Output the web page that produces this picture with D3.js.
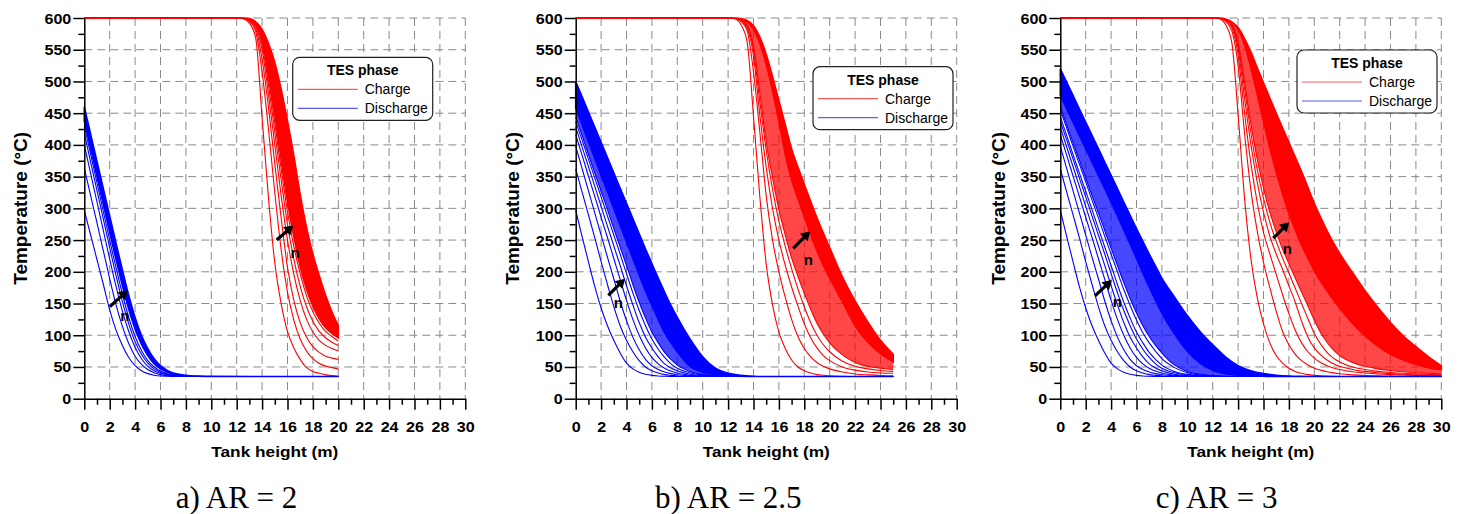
<!DOCTYPE html>
<html><head><meta charset="utf-8">
<script src="https://cdn.jsdelivr.net/npm/d3@7"></script>
<style>body{margin:0;background:#fff}svg{display:block}</style>
</head><body>
<svg id="chart" width="1464" height="514"></svg>
<script>
// ---------------- data ----------------
const xTickValues = [0,2,4,6,8,10,12,14,16,18,20,22,24,26,28,30];
const yTickValues = [0,50,100,150,200,250,300,350,400,450,500,550,600];
const panelCaptions = ["a) AR = 2", "b) AR = 2.5", "c) AR = 3"];
const legendTitle = "TES phase";
const seriesNames = ["Charge", "Discharge"];
const xTitle = "Tank height (m)";
const yTitle = "Temperature (°C)";
const arrowLabel = "n";

// Panel a (AR = 2)
const dischargeKnotsA = [0,0.5,1,1.5,2,2.5,3,3.5,4,4.5,5,5.5,6,6.5,7,8,9,10,20];
const dischargeLinesA = [
  [297,258,219,180,140,108,84,65,52,44,39.5,37,35.8,35.4,35.2,35,35,35,35],
  [363,320,277,233,189,148,114,87,67,54,46,41,38,36.5,35.5,35,35,35,35],
  [400,355,310,265,220,177,138,106,81,63,51,44,40,37.5,36.2,35.3,35,35,35],
  [418,373,328,283,238,194,153,118,90,70,56,47,41.5,38.5,36.7,35.5,35.1,35,35],
  [430,385,340,295,250,206,165,128,98,76,60,50,43.5,39.5,37.3,35.8,35.2,35,35]
];
const dischargeBandInnerA = [438,394,350,306,262,219,178,141,110,86,68,55,47,42,38.8,36.3,35.4,35.1,35];
const dischargeBandOuterA = [460,417,374,331,288,245,203,163,128,100,79,63,52,45,40.5,37,35.7,35.2,35];
const chargeKnotsA = [0,12,12.5,13,13.5,14,14.5,15,15.5,16,16.5,17,17.5,18,18.5,19,19.5,20];
const chargeLinesA = [
  [600,600,599,592,568,443,317,214,150,106,80,62,49,43,40,37.5,36.3,35.5],
  [600,600,599.5,595,578,515,425,325,235,168,124,94,75,63,55.5,51.5,49,47],
  [600,600,599.5,596,583,535,460,370,285,207,155,120,97,82,73,67,64,62],
  [600,600,599.5,597,587,550,480,400,320,250,196,155,125,105,92,84,79,75],
  [600,600,599.5,598,589,558,495,420,345,275,220,177,145,122,106,96,89,84],
  [600,600,599.5,598,591,563,505,435,362,295,240,197,162,137,119,106,98,91]
];
const chargeBandInnerA = [600,600,599.5,598,592,567,512,447,376,310,255,208,172,146,126,112,103,96];
const chargeBandOuterA = [600,600,599.5,599,594,582,560,530,488,438,383,322,270,228,194,163,137,115];

// Panel b (AR = 2.5)
const dischargeKnotsB = [0,0.5,1,1.5,2,2.5,3,3.5,4,4.5,5,5.5,6,6.5,7,7.5,8,9,10,11,12,13,14,15,25];
const dischargeLinesB = [
  [297,256,216,177,143,115,92,72,56,47,41.5,38.5,36.7,35.8,35.3,35.1,35,35,35,35,35,35,35,35,35],
  [362,326,290,254,216,180,145,115,92,74,60,50,44,40.5,38,36.7,35.8,35.2,35,35,35,35,35,35,35],
  [398,363,328,293,258,223,189,154,123,97,77,62,52,46,42,39.5,37.8,36,35.2,35,35,35,35,35,35],
  [416,384,351,319,286,254,221,188,155,125,100,80,65,55,48,43.5,40.5,37,35.6,35.1,35,35,35,35,35],
  [428,397,366,335,303,272,241,210,178,148,120,97,80,66,55,48.5,44,38.5,36.2,35.3,35,35,35,35,35],
  [437,408,378,348,318,288,258,228,197,167,139,115,94,78,65,55,48,41,37.3,35.6,35.1,35,35,35,35],
  [444,415,385,356,327,298,268,239,210,180,152,127,105,88,73,62,53,43,38.3,36,35.3,35,35,35,35]
];
const dischargeBandInnerB = [458,432,405,379,352,326,300,273,247,221,195,170,147,125,104,88,74,51,42,38,36.3,35.5,35.1,35,35];
const dischargeBandOuterB = [500,476,452,428,404,380,356,332,308,284,260,236,213,190,168,147,128,94,66,48,40,37,35.5,35,35];
const chargeKnotsB = [0,12,12.5,13,13.5,14,14.5,15,15.5,16,16.5,17,17.5,18,18.5,19,19.5,20,21,22,23,24,25];
const chargeLinesB = [
  [600,600,599,590,562,445,318,212,148,105,79,61,50,44,40.5,38,37,36,35.3,35,35,35,35],
  [600,600,599.5,595,580,515,420,320,250,200,160,125,98,79,66,57,51,47,42,39,37.5,36.5,36],
  [600,600,599.5,596,584,540,447,365,300,250,210,176,146,118,96,80,68,60,50,45,42,40.5,40],
  [600,600,599.5,597,587,550,468,392,330,280,240,205,173,145,120,100,85,74,59,51,47,44.5,43],
  [600,600,599.5,597,589,556,482,405,348,298,258,222,193,166,141,119,102,88,69,57,51,48,46]
];
const chargeBandInnerB = [600,600,599.5,598.5,594,582,560,527,485,437,385,345,315,287,259,233,210,190,153,115,89,71,58];
const chargeBandOuterB = [600,600,599.5,599,596,588,570,543,508,470,432,394,365,338,311,285,261,238,192,154,121,92,70];

// Panel c (AR = 3)
const dischargeKnotsC = [0,0.5,1,1.5,2,2.5,3,3.5,4,4.5,5,5.5,6,6.5,7,7.5,8,9,10,11,12,13,14,15,16,17,18,19,20,30];
const dischargeLinesC = [
  [297,256,216,177,143,115,92,72,56,47,41.5,38.5,36.7,35.8,35.3,35.1,35,35,35,35,35,35,35,35,35,35,35,35,35,35],
  [362,326,290,254,216,180,145,115,92,74,60,50,44,40.5,38,36.7,35.8,35.2,35,35,35,35,35,35,35,35,35,35,35,35],
  [398,363,328,293,258,223,189,154,123,97,77,62,52,46,42,39.5,37.8,36,35.2,35,35,35,35,35,35,35,35,35,35,35],
  [416,384,351,319,286,254,221,188,155,125,100,80,65,55,48,43.5,40.5,37,35.6,35.1,35,35,35,35,35,35,35,35,35,35],
  [428,397,366,335,303,272,241,210,178,148,120,97,80,66,55,48.5,44,38.5,36.2,35.3,35,35,35,35,35,35,35,35,35,35],
  [437,408,378,348,318,288,258,228,197,167,139,115,94,78,65,55,48,41,37.3,35.6,35.1,35,35,35,35,35,35,35,35,35],
  [444,415,385,356,327,298,268,239,210,180,152,127,105,88,73,62,53,43,38.3,36,35.3,35,35,35,35,35,35,35,35,35],
  [455,427,398,370,342,313,285,256,228,200,172,147,124,104,88,75,63,49,41,37.5,36,35.3,35,35,35,35,35,35,35,35],
  [460,432,404,376,348,320,293,265,237,210,183,158,135,115,98,84,72,53,43,38.5,36.5,35.5,35,35,35,35,35,35,35,35]
];
const dischargeBandInnerC = [478,457,436,415,394,373,352,331,310,288,266,244,221,198,176,155,135,102,75,56,45,39.5,37,35.8,35.3,35.1,35,35,35,35];
const dischargeBandOuterC = [520,499,478,457,436,415,394,373,352,331,310,289,268,248,228,209,190,160,131,106,85,66,52,44,39.5,37,35.7,35.2,35,35];
const chargeKnotsC = [0,12,12.5,13,13.5,14,14.5,15,15.5,16,16.5,17,17.5,18,18.5,19,19.5,20,20.5,21,21.5,22,23,24,25,26,27,28,29,30];
const chargeLinesC = [
  [600,600,599,590,562,448,318,222,160,118,88,68,56,48,43,40,38,36.8,36,35.6,35.3,35.1,35,35,35,35,35,35,35,35],
  [600,600,599.5,595,580,525,420,330,265,215,175,138,106,85,70,60,53,48,45,42.5,40.7,39.3,37.5,36.5,36,35.6,35.3,35.2,35.1,35],
  [600,600,599.5,596,585,542,452,372,310,262,228,196,164,134,108,88,74,64,57,52,48.5,46,42.5,40.5,39,38,37.3,36.7,36.3,36],
  [600,600,599.5,597,588,552,475,402,342,294,256,228,204,178,152,122,97,80,69,61,55,51,46,43,41,39.5,38.5,37.7,37,36.5],
  [600,600,599.5,597,590,558,490,420,362,316,278,248,222,198,174,150,126,103,86,73,64,58,50,46,43,41.3,40,39,38.2,37.5],
  [600,600,599.5,598,591,562,500,434,378,332,294,263,236,213,190,168,146,124,104,89,77,68,57,51,47,44.5,42.5,41,40,39]
];
const chargeBandInnerC = [600,600,599.5,598.5,594,582,558,522,480,437,395,357,323,292,266,242,221,202,185,170,156,143,119,99,83,70,61,54,49,46];
const chargeBandOuterC = [600,600,599.5,598.5,594,585,568,547,522,498,474,450,427,404,381,358,333,308,286,265,246,229,199,170,144,120,99,82,66,52];

// arrow annotations in data units: [x1, T1, x2, T2, labelX, labelT]
const annotationsA = [[2.02,145,3.42,171,3.2,131],[15.15,250,16.46,273,16.59,230]];
const annotationsB = [[2.57,163,3.88,189,3.35,151],[17.13,237,18.46,264,18.31,218]];
const annotationsC = [[2.73,162,4.05,187,4.49,153],[16.77,253,18.03,278,17.87,236]];

// ---------------- drawing ----------------
const FONT = "'Liberation Sans', Arial, Helvetica, sans-serif";
const SERIF = "'Liberation Serif', 'Times New Roman', Times, serif";
const RED = "#ff0000", BLUE = "#0000ff";
const plotWidth = 381, plotTop = 18, plotBottom = 398.7;

const svg = d3.select("#chart");
svg.append("rect").attr("width",1464).attr("height",514).attr("fill","#fff");

const panels = [
  {left:84.3, dK:dischargeKnotsA, dL:dischargeLinesA, dBi:dischargeBandInnerA, dBo:dischargeBandOuterA,
   cK:chargeKnotsA, cL:chargeLinesA, cBi:chargeBandInnerA, cBo:chargeBandOuterA, stripe:false,
   legend:[292.7,57.3], ann:annotationsA, capX:236.5, yTitleOff:57},
  {left:575.7, dK:dischargeKnotsB, dL:dischargeLinesB, dBi:dischargeBandInnerB, dBo:dischargeBandOuterB,
   cK:chargeKnotsB, cL:chargeLinesB, cBi:chargeBandInnerB, cBo:chargeBandOuterB, stripe:true,
   legend:[813,66.7], ann:annotationsB, capX:728.3, yTitleOff:57},
  {left:1060.3, dK:dischargeKnotsC, dL:dischargeLinesC, dBi:dischargeBandInnerC, dBo:dischargeBandOuterC,
   cK:chargeKnotsC, cL:chargeLinesC, cBi:chargeBandInnerC, cBo:chargeBandOuterC, stripe:true,
   legend:[1297,50], ann:annotationsC, capX:1216.7, yTitleOff:55}
];

function drawArrow(g, x1, y1, x2, y2) {
  const dx = x2-x1, dy = y2-y1, L = Math.hypot(dx,dy), ux = dx/L, uy = dy/L;
  const hl = 9, hw = 5.5;
  const bx = x2-ux*hl, by = y2-uy*hl;
  g.append("line").attr("x1",x1).attr("y1",y1).attr("x2",bx+ux).attr("y2",by+uy)
    .attr("stroke","#000").attr("stroke-width",3.2);
  g.append("path").attr("d",`M${x2},${y2}L${bx-uy*hw},${by+ux*hw}L${bx+uy*hw},${by-ux*hw}Z`).attr("fill","#000");
}

panels.forEach((p, pi) => {
  const x = d3.scaleLinear().domain([0,30]).range([p.left, p.left+plotWidth]);
  const y = d3.scaleLinear().domain([0,600]).range([plotBottom, plotTop]);
  const g = svg.append("g");

  // grid
  const grid = g.append("g").attr("stroke","#8a8a8a").attr("stroke-width",1).attr("stroke-dasharray","8,5");
  grid.selectAll(".gv").data(xTickValues.filter(v => v > 0)).join("line").attr("class","gv")
    .attr("x1",d=>x(d)).attr("x2",d=>x(d)).attr("y1",y(600)).attr("y2",y(0));
  grid.selectAll(".gh").data(yTickValues.filter(v => v > 0)).join("line").attr("class","gh")
    .attr("y1",d=>y(d)).attr("y2",d=>y(d)).attr("x1",x(0)).attr("x2",x(30));

  const lineGen = knots => d3.line().x((d,i)=>x(knots[i])).y(d=>y(d)).curve(d3.curveMonotoneX);
  const areaGen = knots => d3.area().x((d,i)=>x(knots[i])).y0(d=>y(d[0])).y1(d=>y(d[1])).curve(d3.curveMonotoneX);

  function family(knots, lines, inner, outer, color) {
    if (p.stripe) {
      // densely packed curves between the last separate curve and the solid part
      g.append("path").datum(d3.zip(lines[lines.length-1], inner)).attr("d", areaGen(knots))
        .attr("fill",color).attr("fill-opacity",0.72).attr("stroke","none");
    }
    g.append("path").datum(d3.zip(inner, outer)).attr("d", areaGen(knots))
      .attr("fill",color).attr("stroke",color).attr("stroke-width",1.6);
    g.append("g").selectAll("path").data(lines).join("path").attr("d", lineGen(knots))
      .attr("fill","none").attr("stroke",color).attr("stroke-width",1.1);
  }
  family(p.cK, p.cL, p.cBi, p.cBo, RED);
  family(p.dK, p.dL, p.dBi, p.dBo, BLUE);

  // axes
  const yAx = g.append("g").attr("transform",`translate(${x(0)},0)`)
    .call(d3.axisLeft(y).tickValues(yTickValues).tickSize(11).tickSizeOuter(0));
  yAx.select(".domain").attr("stroke","#000").attr("stroke-width",1.5);
  yAx.selectAll(".tick line").attr("stroke","#000").attr("stroke-width",1.5);
  yAx.selectAll(".tick text").attr("x",null).attr("dy",null)
    .attr("transform","translate(-13,5) scale(1.15,1)")
    .attr("font-family",FONT).attr("font-size",14).attr("font-weight","bold").attr("fill","#000");
  const yMinor = g.append("g").attr("transform",`translate(${x(0)},0)`)
    .call(d3.axisLeft(y).tickValues(d3.range(25,600,50)).tickSize(6).tickFormat(()=>""));
  yMinor.select(".domain").remove();
  yMinor.selectAll(".tick line").attr("stroke","#000").attr("stroke-width",1.5);

  const xAx = g.append("g").attr("transform",`translate(0,${y(0)})`)
    .call(d3.axisBottom(x).tickValues(xTickValues).tickSize(11).tickSizeOuter(0));
  xAx.select(".domain").attr("stroke","#000").attr("stroke-width",1.5);
  xAx.selectAll(".tick line").attr("stroke","#000").attr("stroke-width",1.5);
  xAx.selectAll(".tick text").attr("y",null).attr("dy",null)
    .attr("transform","translate(0,33) scale(1.15,1)")
    .attr("font-family",FONT).attr("font-size",14).attr("font-weight","bold").attr("fill","#000");
  const xMinor = g.append("g").attr("transform",`translate(0,${y(0)})`)
    .call(d3.axisBottom(x).tickValues(d3.range(1,30,2)).tickSize(6).tickFormat(()=>""));
  xMinor.select(".domain").remove();
  xMinor.selectAll(".tick line").attr("stroke","#000").attr("stroke-width",1.5);

  // axis titles
  g.append("text").attr("transform",`translate(${x(15)},456.7) scale(1.15,1)`)
    .attr("text-anchor","middle").attr("font-family",FONT).attr("font-size",15).attr("font-weight","bold")
    .text(xTitle);
  g.append("text").attr("transform",`translate(${x(0)-p.yTitleOff},${y(300)}) rotate(-90)`)
    .attr("text-anchor","middle").attr("font-family",FONT).attr("font-size",19).attr("font-weight","bold")
    .text(yTitle);

  // caption
  g.append("text").attr("x",p.capX).attr("y",508).attr("text-anchor","middle")
    .attr("font-family",SERIF).attr("font-size",31).text(panelCaptions[pi]);

  // legend
  const lg = g.append("g").attr("transform",`translate(${p.legend[0]},${p.legend[1]})`)
    .attr("font-family",FONT).attr("font-size",14);
  lg.append("rect").attr("width",140).attr("height",63).attr("rx",7)
    .attr("fill","#fff").attr("stroke","#222").attr("stroke-width",1.2);
  lg.append("text").attr("x",70).attr("y",18).attr("text-anchor","middle").attr("font-weight","bold").text(legendTitle);
  const legendColors = ["#ff5a5a", "#5a5aff"];
  seriesNames.forEach((s,i) => {
    const yy = 32 + 19*i;
    lg.append("line").attr("x1",5).attr("x2",65).attr("y1",yy).attr("y2",yy)
      .attr("stroke",legendColors[i]).attr("stroke-width",1.2);
    lg.append("text").attr("x",72).attr("y",yy+5).text(s);
  });

  // arrows with "n"
  p.ann.forEach(a => {
    drawArrow(g, x(a[0]), y(a[1]), x(a[2]), y(a[3]));
    g.append("text").attr("x",x(a[4])).attr("y",y(a[5])+5).attr("text-anchor","middle")
      .attr("font-family",FONT).attr("font-size",15).attr("font-weight","bold").text(arrowLabel);
  });
});
</script>
</body></html>
